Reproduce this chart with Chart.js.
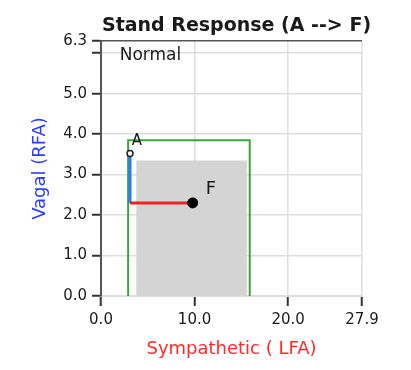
<!DOCTYPE html>
<html>
<head>
<meta charset="utf-8">
<script src="https://cdn.jsdelivr.net/npm/chart.js@4/dist/chart.umd.min.js"></script>
<style>
  html, body { margin: 0; padding: 0; background: #fff; }
  #box { width: 411px; height: 370px; }
</style>
</head>
<body>
<div id="box"><canvas id="grafico"></canvas></div>
<script>
var titolo = 'Stand Response (A --> F)';

// ticks
var xTicks = [0, 10, 20, 27.9];
var xTickLabels = ['0.0', '10.0', '20.0', '27.9'];
var yTicks = [0, 1, 2, 3, 4, 5, 6, 6.3];
var yTickLabels = ['0.0', '1.0', '2.0', '3.0', '4.0', '5.0', '', '6.3'];

// normal zone (green outline) and shaded zone
var normaleX = [2.9, 2.9, 15.9, 15.9];
var normaleY = [0, 3.85, 3.85, 0];
var grigioX = [3.76, 15.6];
var grigioY = [3.35, 3.35];

// response path A -> F
var percorsoX = [3.1, 3.1, 9.8];
var percorsoY = [3.52, 2.3, 2.3];

// text labels
var etichette = ['Normal', 'A', 'F'];
var etichetteX = [2.0, 3.3, 11.2];
var etichetteY = [5.93, 3.83, 2.63];
var etichetteFont = [17, 15, 18];

function punti(xs, ys) {
   return xs.map(function (x, i) { return { x: x, y: ys[i] }; });
}

const scritte = {
   id: 'scritte',
   afterDatasetsDraw: function (chart) {
      const ctx = chart.ctx;
      const sx = chart.scales.x, sy = chart.scales.y;
      ctx.save();
      ctx.fillStyle = '#1a1a1a';
      ctx.textBaseline = 'middle';
      ctx.textAlign = 'left';
      etichette.forEach(function (t, i) {
         ctx.font = etichetteFont[i] + 'px "DejaVu Sans"';
         ctx.fillText(t, sx.getPixelForValue(etichetteX[i]), sy.getPixelForValue(etichetteY[i]));
      });
      // title, a bit wider than the plot area, so drawn by hand
      ctx.font = 'bold 19px "DejaVu Sans"';
      ctx.textAlign = 'center';
      ctx.fillText(titolo, (chart.chartArea.left + chart.chartArea.right) / 2 + 5, 26);
      ctx.restore();
   }
};

const ctx = document.getElementById('grafico').getContext('2d');
const myChart = new Chart(ctx, {
   type: 'line',
   data: {
      datasets: [{
         data: punti(grigioX, grigioY),
         backgroundColor: '#d4d4d4',
         borderWidth: 0,
         pointRadius: 0,
         fill: 'origin',
         order: 6
      }, {
         data: punti(normaleX, normaleY),
         borderColor: '#3aa53a',
         borderWidth: 2,
         pointRadius: 0,
         fill: false,
         order: 5
      }, {
         data: punti(percorsoX.slice(0, 2), percorsoY.slice(0, 2)),
         borderColor: '#1f7fff',
         borderWidth: 3,
         pointRadius: 0,
         fill: false,
         order: 4
      }, {
         data: punti(percorsoX.slice(1), percorsoY.slice(1)),
         borderColor: '#ee2222',
         borderWidth: 3,
         pointRadius: 0,
         fill: false,
         order: 3
      }, {
         data: punti(percorsoX.slice(0, 1), percorsoY.slice(0, 1)),
         showLine: false,
         pointRadius: 3,
         pointBackgroundColor: '#ffffff',
         pointBorderColor: '#222',
         pointBorderWidth: 1.5,
         order: 2
      }, {
         data: punti(percorsoX.slice(2), percorsoY.slice(2)),
         showLine: false,
         pointRadius: 5,
         pointBackgroundColor: '#000',
         pointBorderColor: '#000',
         order: 1
      }]
   },
   options: {
      responsive: true,
      maintainAspectRatio: false,
      animation: false,
      layout: { padding: { left: 0, right: 49, top: 41, bottom: 0 } },
      plugins: {
         legend: { display: false },
         tooltip: { enabled: false },
         title: { display: false }
      },
      scales: {
         x: {
            type: 'linear',
            min: 0,
            max: 27.9,
            afterBuildTicks: function (scale) {
               scale.ticks = xTicks.map(function (v) { return { value: v }; });
            },
            afterFit: function (scale) { scale.height = 74; },
            ticks: {
               autoSkip: false,
               maxRotation: 0,
               padding: 5,
               color: '#1a1a1a',
               font: { family: 'DejaVu Sans', size: 15 },
               callback: function (v, i) { return xTickLabels[i]; }
            },
            grid: {
               color: function (c) { return c.tick && c.tick.value === 0 ? '#555' : '#dedede'; },
               lineWidth: 1.5,
               tickColor: '#333',
               tickLength: 10,
               tickWidth: 2
            },
            border: { color: '#dedede', width: 2 },
            title: {
               display: true,
               text: 'Sympathetic ( LFA)',
               color: '#ff2a2a',
               font: { family: 'DejaVu Sans', size: 18, lineHeight: 1.2 },
               padding: { top: 0, bottom: 10 }
            }
         },
         y: {
            type: 'linear',
            min: 0,
            max: 6.3,
            afterBuildTicks: function (scale) {
               scale.ticks = yTicks.map(function (v) { return { value: v }; });
            },
            afterFit: function (scale) { scale.width = 101; },
            ticks: {
               autoSkip: false,
               padding: 5,
               color: '#1a1a1a',
               font: { family: 'DejaVu Sans', size: 15 },
               callback: function (v, i) { return yTickLabels[i]; }
            },
            grid: {
               color: function (c) { return c.tick && c.tick.value === 6.3 ? '#555' : '#dedede'; },
               lineWidth: 1.5,
               tickColor: '#333',
               tickLength: 9,
               tickWidth: 2
            },
            border: { color: '#555', width: 2 },
            title: {
               display: true,
               text: 'Vagal (RFA)',
               color: '#2a3cff',
               font: { family: 'DejaVu Sans', size: 18, lineHeight: 1.2 },
               padding: { top: 30, bottom: 0 }
            }
         }
      }
   },
   plugins: [scritte]
});
</script>
</body>
</html>
